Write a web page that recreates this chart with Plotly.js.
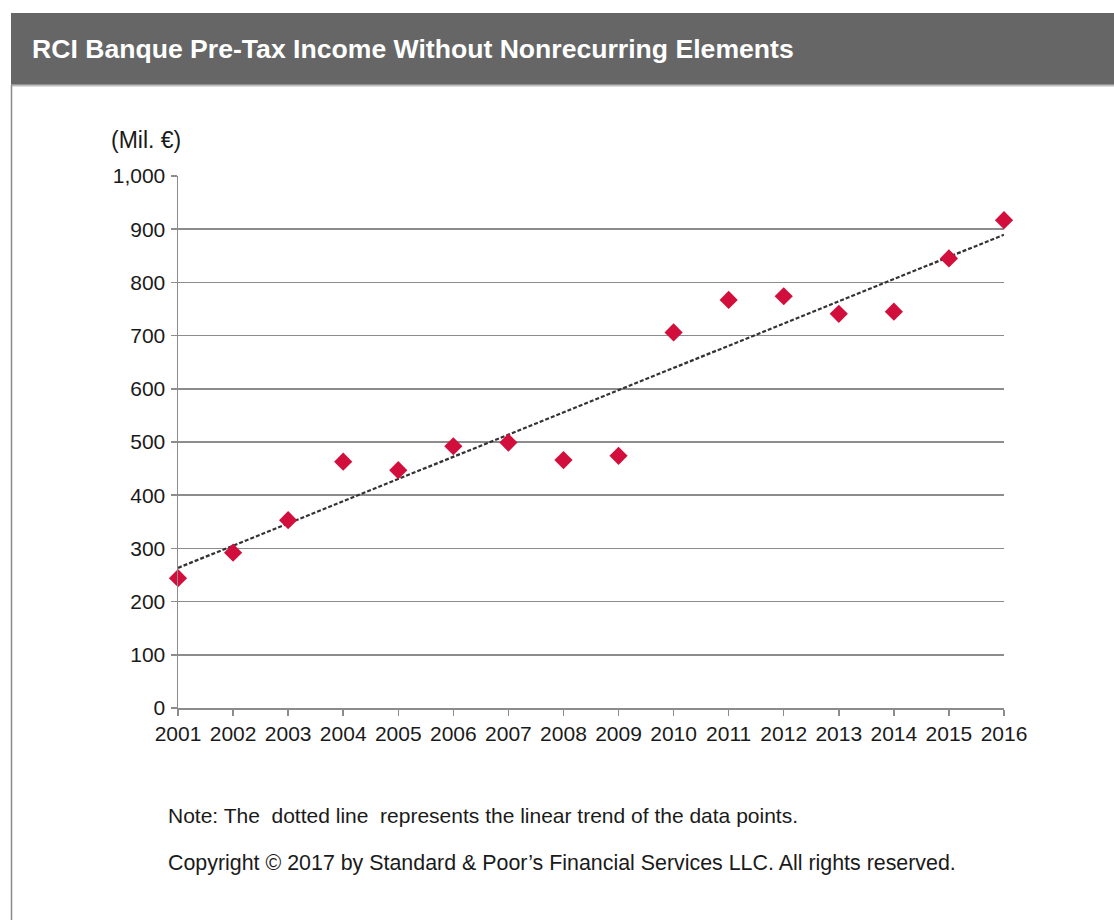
<!DOCTYPE html>
<html>
<head>
<meta charset="utf-8">
<script src="https://cdn.plot.ly/plotly-3.0.1.min.js"></script>
<style>
html,body{margin:0;padding:0;background:#fff;}
#chart{width:1114px;height:920px;}
</style>
</head>
<body>
<div id="chart"></div>
<script>
// ---- data ----
const years = [2001,2002,2003,2004,2005,2006,2007,2008,2009,2010,2011,2012,2013,2014,2015,2016];
const yearLabels = ["2001","2002","2003","2004","2005","2006","2007","2008","2009","2010","2011","2012","2013","2014","2015","2016"];
const income = [244,292,353,463,447,492,499,466,474,706,767,774,741,745,845,917];
const yTicks = [0,100,200,300,400,500,600,700,800,900,1000];

const titleText = "RCI Banque Pre-Tax Income Without Nonrecurring Elements";
const unitText = "(Mil. €)";
const noteText = "Note: The  dotted line  represents the linear trend of the data points.";
const copyText = "Copyright © 2017 by Standard & Poor’s Financial Services LLC. All rights reserved.";

// linear trend (least squares) of the data points
const n = years.length;
const mx = years.reduce((a,b)=>a+b,0)/n;
const my = income.reduce((a,b)=>a+b,0)/n;
let sxy=0, sxx=0;
for(let i=0;i<n;i++){ sxy += (years[i]-mx)*(income[i]-my); sxx += (years[i]-mx)*(years[i]-mx); }
const slope = sxy/sxx, icpt = my - slope*mx;
const trendX = [years[0], years[n-1]];
const trendY = trendX.map(x => icpt + slope*x);

// ---- layout helpers (pixel -> paper) ----
const W=1114, H=920, L=178, R=1004, T=176, B=708;
const px = x => (x-L)/(R-L);
const py = y => (B-y)/(B-T);
const FONT = "Liberation Sans, Arial, sans-serif";

const traces = [
  {x: trendX, y: trendY, mode:'lines', type:'scatter', hoverinfo:'skip',
   line:{color:'#333333', width:2.2, dash:'4px,2px'}, cliponaxis:false},
  {x: years, y: income, mode:'markers', type:'scatter',
   marker:{symbol:'diamond', size:14, color:'#d20f3c'}, cliponaxis:false}
];

const layout = {
  width:W, height:H,
  margin:{l:L, r:W-R, t:T, b:H-B, pad:0},
  paper_bgcolor:'#fff', plot_bgcolor:'#fff',
  showlegend:false,
  font:{family:FONT, color:'#1a1a1a', size:21},
  xaxis:{range:[2001,2016], tickvals:years, ticktext:yearLabels, showgrid:false, zeroline:false,
         showline:true, linecolor:'#8c8c8c', linewidth:1.5, ticks:'outside', ticklen:6, tickcolor:'#8c8c8c', tickwidth:1.5,
         tickfont:{size:21, color:'#1a1a1a', family:FONT}, fixedrange:true},
  yaxis:{range:[0,1000], tickvals:yTicks, tickformat:',d', showgrid:true, gridcolor:'#8c8c8c', gridwidth:1.5,
         zeroline:false, showline:true, linecolor:'#8c8c8c', linewidth:1.5, ticks:'outside', ticklen:6,
         tickcolor:'#8c8c8c', tickwidth:1.5, tickfont:{size:21, color:'#1a1a1a', family:FONT}, ticklabelstandoff:1, fixedrange:true},
  shapes:[
    {type:'rect', xref:'paper', yref:'paper', x0:px(11), x1:px(1120), y0:py(85), y1:py(13), fillcolor:'#666666', line:{width:0}, layer:'below'},
    {type:'line', xref:'paper', yref:'paper', x0:px(11), x1:px(1120), y0:py(85.5), y1:py(85.5), line:{color:'#bdbdbd', width:2}},
    {type:'line', xref:'paper', yref:'paper', x0:px(11.5), x1:px(11.5), y0:py(85), y1:py(925), line:{color:'#8a8a8a', width:1.5}}
  ],
  annotations:[
    {text:titleText, xref:'paper', yref:'paper', x:px(30), y:py(49), xanchor:'left', yanchor:'middle', showarrow:false,
     font:{family:FONT, size:26.6, color:'#ffffff', weight:'bold'}},
    {text:unitText, xref:'paper', yref:'paper', x:px(109), y:py(140), xanchor:'left', yanchor:'middle', showarrow:false,
     font:{family:FONT, size:23, color:'#1a1a1a'}},
    {text:noteText, xref:'paper', yref:'paper', x:px(166), y:py(815), xanchor:'left', yanchor:'middle', showarrow:false,
     font:{family:FONT, size:21, color:'#1a1a1a'}},
    {text:copyText, xref:'paper', yref:'paper', x:px(166), y:py(863), xanchor:'left', yanchor:'middle', showarrow:false,
     font:{family:FONT, size:21.4, color:'#1a1a1a'}}
  ]
};

Plotly.newPlot('chart', traces, layout, {displayModeBar:false, staticPlot:true});
</script>
</body>
</html>
